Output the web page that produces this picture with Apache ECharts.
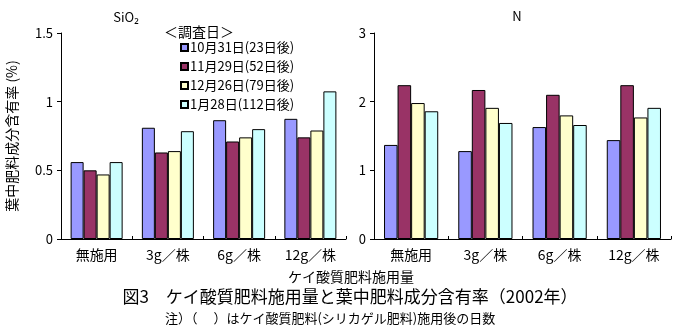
<!DOCTYPE html>
<html><head><meta charset="utf-8">
<script src="https://cdn.jsdelivr.net/npm/echarts@6/dist/echarts.min.js"></script>
<style>html,body{margin:0;padding:0;background:#fff}#c{width:676px;height:329px}</style>
</head><body><div id="c"></div>
<script>
const categories = ['無施用', '3g／株', '6g／株', '12g／株'];
const seriesNames = ['10月31日(23日後)', '11月29日(52日後)', '12月26日(79日後)', '1月28日(112日後)'];
const colors = ['#9999FF', '#993366', '#FFFFCC', '#CCFFFF'];
const sio2Oct31 = [0.56, 0.81, 0.865, 0.875];
const sio2Nov29 = [0.50, 0.63, 0.71, 0.74];
const sio2Dec26 = [0.47, 0.64, 0.74, 0.79];
const sio2Jan28 = [0.56, 0.785, 0.80, 1.075];
const nOct31 = [1.37, 1.28, 1.63, 1.44];
const nNov29 = [2.24, 2.17, 2.10, 2.24];
const nDec26 = [1.98, 1.91, 1.80, 1.77];
const nJan28 = [1.86, 1.69, 1.66, 1.91];
const sio2Ticks = [0, 0.5, 1, 1.5];
const nTicks = [0, 1, 2, 3];

const FONT = '"Noto Sans CJK JP", "Noto Sans", sans-serif';
const sio2Data = [sio2Oct31, sio2Nov29, sio2Dec26, sio2Jan28];
const nData = [nOct31, nNov29, nDec26, nJan28];

function xAx(gi) {
  return {
    type: 'category', gridIndex: gi, data: categories,
    axisLine: { lineStyle: { color: '#000', width: 1 } },
    axisTick: { show: true, inside: true, length: 3, lineStyle: { color: '#000' } },
    axisLabel: { color: '#000', fontSize: 14, fontFamily: FONT, margin: 9 }
  };
}
function yAx(gi, ticks, name) {
  return {
    type: 'value', gridIndex: gi, min: ticks[0], max: ticks[ticks.length - 1],
    interval: ticks[1] - ticks[0],
    name: name, nameLocation: 'middle', nameGap: 42, nameRotate: 90,
    nameTextStyle: { color: '#000', fontSize: 14, fontFamily: FONT },
    axisLine: { show: true, lineStyle: { color: '#000', width: 1 } },
    axisTick: { show: true, length: 4, lineStyle: { color: '#000' } },
    axisLabel: { color: '#000', fontSize: 13, fontFamily: FONT, margin: 8 },
    splitLine: { show: false }
  };
}
const series = [];
seriesNames.forEach((nm, i) => {
  const base = {
    name: nm, type: 'bar', barGap: '0%', barCategoryGap: '27%',
    itemStyle: { color: colors[i], borderColor: '#000', borderWidth: 1 },
    animation: false
  };
  series.push(Object.assign({}, base, { xAxisIndex: 0, yAxisIndex: 0, data: sio2Data[i] }));
  series.push(Object.assign({}, base, { xAxisIndex: 1, yAxisIndex: 1, data: nData[i] }));
});

const chart = echarts.init(document.getElementById('c'), null, { renderer: 'canvas' });
chart.setOption({
  animation: false,
  backgroundColor: '#fff',
  grid: [
    { left: 61, right: 330, top: 33, bottom: 90 },
    { left: 374, right: 5, top: 33, bottom: 90 }
  ],
  xAxis: [xAx(0), xAx(1)],
  yAxis: [yAx(0, sio2Ticks, '葉中肥料成分含有率 (%)'), yAx(1, nTicks, '')],
  legend: {
    data: seriesNames, orient: 'vertical', left: 180, top: 41,
    itemWidth: 7, itemHeight: 7, itemGap: 6, icon: 'rect',
    textStyle: { color: '#000', fontSize: 13, fontFamily: FONT, padding: [0, 0, 0, -3] },
    padding: 0
  },
  graphic: [
    { type: 'text', left: 164, top: 25, style: { text: '＜調査日＞', fill: '#000', font: '14px ' + FONT } },
    { type: 'text', x: 126, y: 17, style: { text: 'SiO₂', fill: '#000', font: '13px ' + FONT, textAlign: 'center', textVerticalAlign: 'middle' } },
    { type: 'text', x: 517, y: 16, style: { text: 'N', fill: '#000', font: '13px ' + FONT, textAlign: 'center', textVerticalAlign: 'middle' } },
    { type: 'text', x: 351, y: 277, style: { text: 'ケイ酸質肥料施用量', fill: '#000', font: '14px ' + FONT, textAlign: 'center', textVerticalAlign: 'middle' } },
    { type: 'text', x: 350, y: 297, style: { text: '図3　ケイ酸質肥料施用量と葉中肥料成分含有率（2002年）', fill: '#000', font: '17px ' + FONT, textAlign: 'center', textVerticalAlign: 'middle' } },
    { type: 'text', x: 165, y: 318, style: { text: '注）（　 ）はケイ酸質肥料(シリカゲル肥料)施用後の日数', fill: '#000', font: '13px ' + FONT, textAlign: 'left', textVerticalAlign: 'middle' } }
  ],
  series: series
});
</script>
</body></html>
